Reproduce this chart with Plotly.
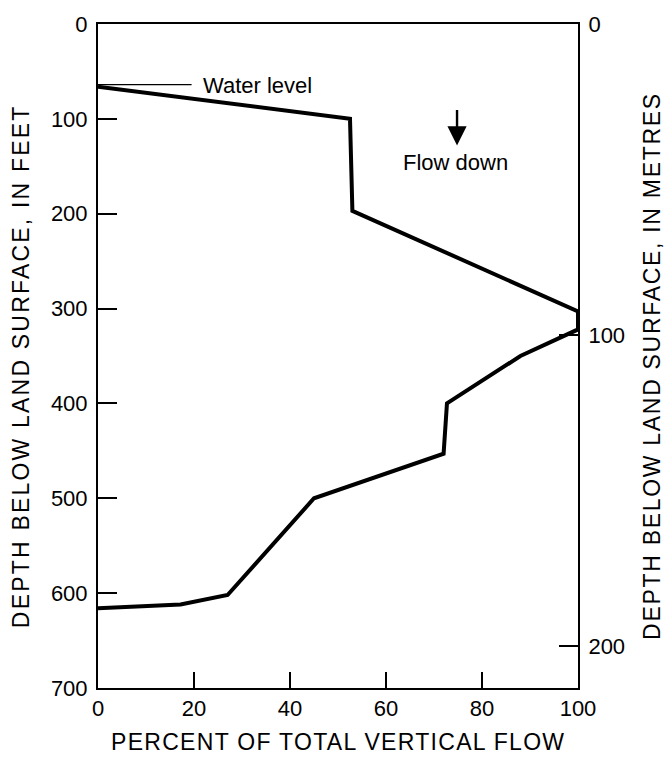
import plotly.graph_objects as go

# Percent of total vertical flow versus depth below land surface
percent_flow = [0, 52.5, 53, 100, 100, 88, 72.7, 72, 45, 27, 17.2, 0]
depth_ft = [66, 100, 197, 303, 322, 350, 400, 453, 500, 602, 612, 616]

x_ticks = [0, 20, 40, 60, 80, 100]
ft_ticks = [0, 100, 200, 300, 400, 500, 600, 700]
m_ticks = [0, 100, 200]
FT_TO_M = 0.3048
depth_max_ft = 700

# Label placements (percent, depth in feet)
water_leader_x = [0, 19.5]
water_leader_y = [64, 64]
water_label_pos = (21.5, 65)
arrow_tail = (74.8, 89)
arrow_head = (74.8, 128)
flow_label_pos = (74.4, 146)

font_family = "Liberation Sans, Arial, sans-serif"


def spaced(text, px):
    return f'<span style="letter-spacing:{px}px">{text}</span>'


fig = go.Figure()

fig.add_trace(go.Scatter(
    x=percent_flow, y=depth_ft, mode="lines",
    line=dict(color="black", width=4), showlegend=False, hoverinfo="skip",
))

fig.add_trace(go.Scatter(
    x=water_leader_x, y=water_leader_y, mode="lines",
    line=dict(color="black", width=1.2), showlegend=False, hoverinfo="skip",
))

# Invisible trace so the metre axis is drawn
fig.add_trace(go.Scatter(
    x=[percent_flow[0]], y=[depth_ft[0] * FT_TO_M], yaxis="y2", mode="lines",
    line=dict(color="rgba(0,0,0,0)"), showlegend=False, hoverinfo="skip",
))

fig.add_annotation(
    x=water_label_pos[0], y=water_label_pos[1], text="Water level",
    showarrow=False, xanchor="left", yanchor="middle",
    font=dict(family=font_family, size=22, color="black"),
)
fig.add_annotation(
    x=arrow_head[0], y=arrow_head[1], ax=arrow_tail[0], ay=arrow_tail[1],
    xref="x", yref="y", axref="x", ayref="y", text="",
    showarrow=True, arrowhead=2, arrowsize=1.6, arrowwidth=2.4, arrowcolor="black",
)
fig.add_annotation(
    x=flow_label_pos[0], y=flow_label_pos[1], text="Flow down",
    showarrow=False, xanchor="center", yanchor="middle",
    font=dict(family=font_family, size=22, color="black"),
)

# Axis titles
fig.add_annotation(
    xref="paper", yref="paper", x=-0.160, y=0.485, textangle=-90,
    text=spaced("DEPTH BELOW LAND SURFACE, IN FEET", 2.2), showarrow=False,
    xanchor="center", yanchor="middle",
    font=dict(family=font_family, size=23, color="black"),
)
fig.add_annotation(
    xref="paper", yref="paper", x=1.154, y=0.485, textangle=-90,
    text=spaced("DEPTH BELOW LAND SURFACE, IN METRES", 1.7), showarrow=False,
    xanchor="center", yanchor="middle",
    font=dict(family=font_family, size=23, color="black"),
)
fig.add_annotation(
    xref="paper", yref="paper", x=0.5, y=-0.081,
    text=spaced("PERCENT OF TOTAL VERTICAL FLOW", 1.3), showarrow=False,
    xanchor="center", yanchor="middle",
    font=dict(family=font_family, size=23, color="black"),
)

fig.update_layout(
    width=664, height=757,
    margin=dict(l=98, r=86, t=20, b=69),
    paper_bgcolor="white", plot_bgcolor="white",
    font=dict(family=font_family, color="black", size=22),
    xaxis=dict(
        range=[0, 100], tickvals=x_ticks, ticks="inside", ticklen=16,
        tickwidth=1.5, tickcolor="black", showline=True, linecolor="black",
        linewidth=2, mirror=True, showgrid=False, zeroline=False,
        tickfont=dict(size=22), ticklabelstandoff=0,
    ),
    yaxis=dict(
        range=[depth_max_ft, 0], tickvals=ft_ticks, ticks="inside", ticklen=19,
        tickwidth=1.5, tickcolor="black", showline=True, linecolor="black",
        linewidth=2, showgrid=False, zeroline=False,
        tickfont=dict(size=22), ticklabelstandoff=4,
    ),
    yaxis2=dict(
        range=[depth_max_ft * FT_TO_M, 0], tickvals=m_ticks, ticks="inside",
        ticklen=19, tickwidth=1.5, tickcolor="black", showline=True,
        linecolor="black", linewidth=2, showgrid=False, zeroline=False,
        overlaying="y", side="right", tickfont=dict(size=22),
        ticklabelstandoff=4,
    ),
)

fig.write_html("out.html")
